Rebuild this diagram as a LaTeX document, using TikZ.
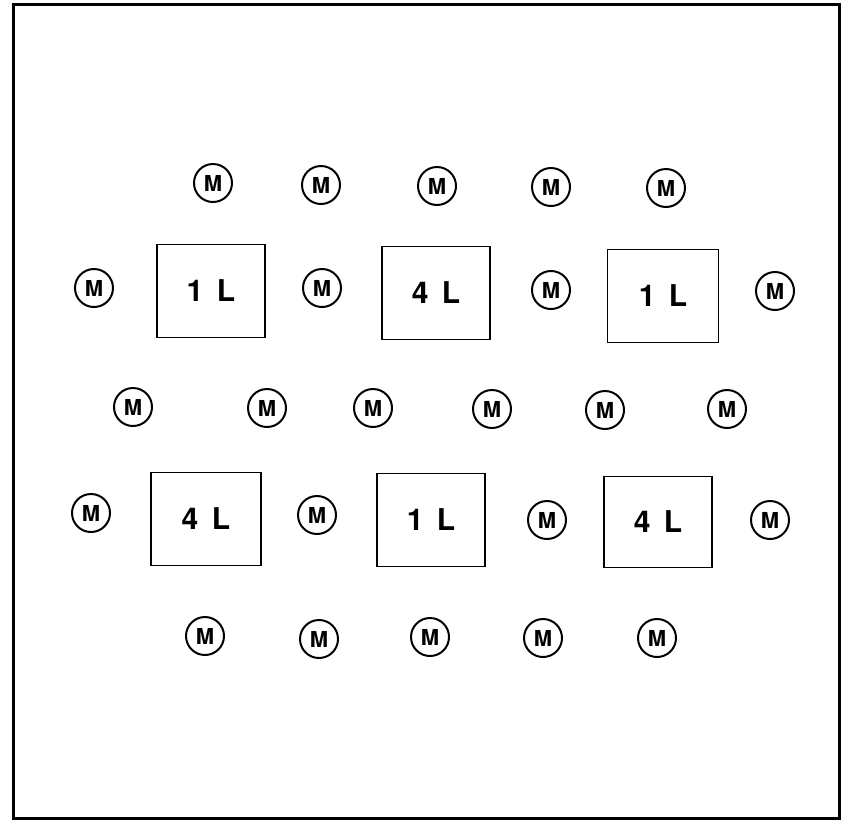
\documentclass[tikz,border=0pt]{standalone}
\usepackage{fontspec}
\setmainfont{TeX Gyre Heros}
\usepackage{tikz}
\usetikzlibrary{positioning}

\begin{document}
\begin{tikzpicture}[x=1pt,y=-1pt, every node/.style={font=\bfseries}, mot/.style={draw,circle,line width=2pt,minimum size=38pt,inner sep=0pt,font=\fontsize{22}{22}\bfseries\selectfont}, lamp/.style={draw,rectangle,line width=1.5pt,minimum width=108pt,minimum height=93pt,inner sep=0pt,font=\fontsize{30}{30}\bfseries\selectfont}]
\useasboundingbox (0,0) rectangle (842,820);
\draw[line width=3pt] (13,4) rectangle (839,818);
% lamp boxes
\node[lamp] (lA) at (211,291) {1\hspace{0.45em}L};
\node[lamp] (lB) at (436,293) {4\hspace{0.45em}L};
\node[lamp,minimum width=111pt] (lC) at (663,296) {1\hspace{0.45em}L};
\node[lamp,minimum width=110pt] (lD) at (206,519) {4\hspace{0.45em}L};
\node[lamp] (lE) at (431,520) {1\hspace{0.45em}L};
\node[lamp,minimum height=91pt] (lF) at (658,522) {4\hspace{0.45em}L};
% top row
\node[mot] (t1) at (213,183) {M};
\node[mot] (t2) at (321,185) {M};
\node[mot] (t3) at (437,186) {M};
\node[mot] (t4) at (551,187) {M};
\node[mot] (t5) at (666,188) {M};
% between the upper boxes
\node[mot] (u1) at (94,288) {M};
\node[mot] (u2) at (322,288) {M};
\node[mot] (u3) at (551,290) {M};
\node[mot] (u4) at (775,291) {M};
% middle row
\node[mot] (c1) at (133,407) {M};
\node[mot] (c2) at (267,408) {M};
\node[mot] (c3) at (373,408) {M};
\node[mot] (c4) at (492,409) {M};
\node[mot] (c5) at (605,410) {M};
\node[mot] (c6) at (727,409) {M};
% between the lower boxes
\node[mot] (d1) at (91,513) {M};
\node[mot] (d2) at (317,515) {M};
\node[mot] (d3) at (547,520) {M};
\node[mot] (d4) at (770,520) {M};
% bottom row
\node[mot] (b1) at (205,636) {M};
\node[mot] (b2) at (319,639) {M};
\node[mot] (b3) at (430,637) {M};
\node[mot] (b4) at (543,638) {M};
\node[mot] (b5) at (657,638) {M};
\end{tikzpicture}
\end{document}
